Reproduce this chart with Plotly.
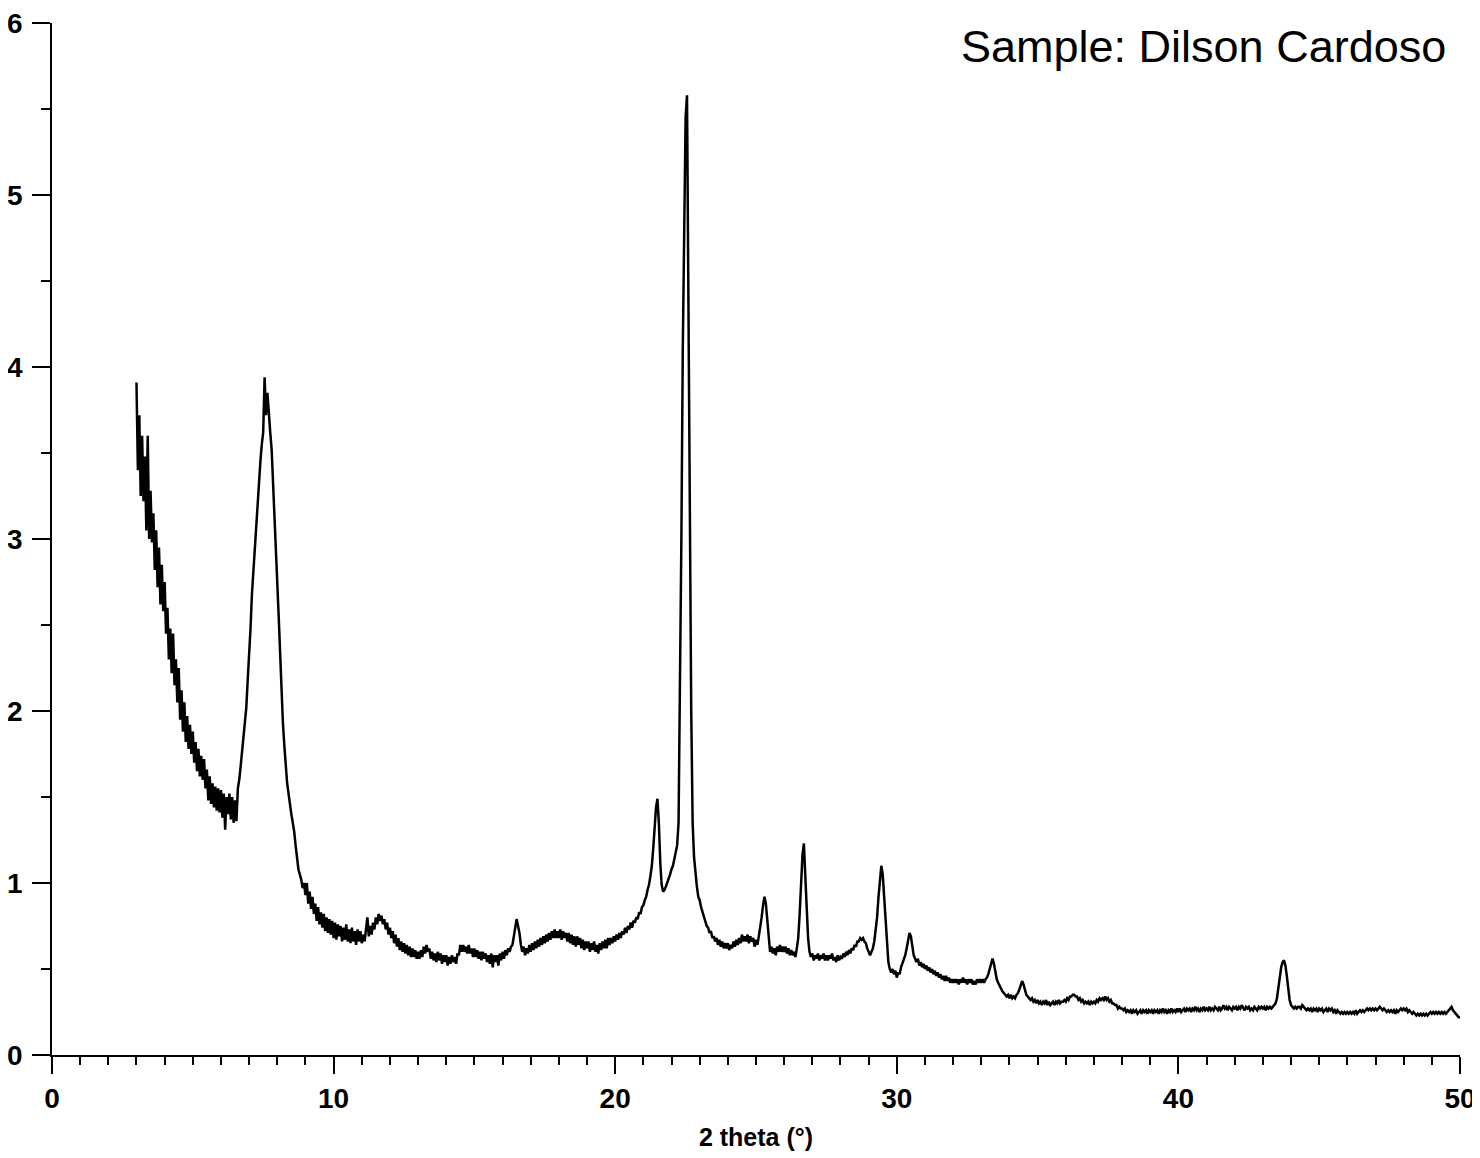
#### Diffractogramme DRX - Sample: Dilson Cardoso

from plotly.graph_objects import Scatter, Figure

# debut et pas du balayage en 2 theta (degres)
two_theta_start = 3.0
two_theta_step = 0.05

# intensite, une ligne par degre (3.00 ... 3.95, 4.00 ... etc.)
intensity = [
    3.91, 3.40, 3.72, 3.25, 3.60, 3.22, 3.48, 3.05, 3.60, 3.00, 3.28, 2.98, 3.15, 2.82, 3.05, 2.72, 2.95, 2.62, 2.85, 2.58,
    2.75, 2.45, 2.60, 2.30, 2.48, 2.22, 2.45, 2.15, 2.30, 2.05, 2.25, 1.95, 2.12, 1.88, 2.05, 1.82, 1.97, 1.78, 1.92, 1.75,
    1.88, 1.70, 1.82, 1.65, 1.78, 1.62, 1.74, 1.60, 1.72, 1.55, 1.66, 1.48, 1.62, 1.46, 1.58, 1.44, 1.56, 1.42, 1.55, 1.41,
    1.54, 1.38, 1.52, 1.31, 1.50, 1.40, 1.52, 1.37, 1.50, 1.35, 1.48, 1.36, 1.55, 1.60, 1.68, 1.76, 1.85, 1.92, 2.02, 2.18,
    2.32, 2.48, 2.68, 2.82, 2.95, 3.08, 3.20, 3.32, 3.45, 3.55, 3.62, 3.94, 3.72, 3.85, 3.70, 3.62, 3.52, 3.34, 3.15, 2.98,
    2.78, 2.55, 2.34, 2.12, 1.93, 1.80, 1.68, 1.58, 1.52, 1.45, 1.40, 1.35, 1.30, 1.22, 1.15, 1.08, 1.05, 1.02, 0.97, 1.00,
    0.93, 1.00, 0.88, 0.95, 0.85, 0.92, 0.82, 0.88, 0.78, 0.86, 0.76, 0.83, 0.74, 0.82, 0.72, 0.80, 0.71, 0.79, 0.70, 0.78,
    0.68, 0.77, 0.67, 0.76, 0.69, 0.75, 0.66, 0.74, 0.67, 0.76, 0.66, 0.73, 0.65, 0.74, 0.66, 0.72, 0.64, 0.73, 0.66, 0.72,
    0.65, 0.70, 0.66, 0.74, 0.80, 0.69, 0.75, 0.70, 0.77, 0.73, 0.80, 0.76, 0.82, 0.78, 0.81, 0.76, 0.79, 0.73, 0.77, 0.70,
    0.74, 0.68, 0.72, 0.65, 0.70, 0.63, 0.68, 0.61, 0.66, 0.60, 0.65, 0.59, 0.64, 0.58, 0.63, 0.57, 0.62, 0.57, 0.61, 0.56,
    0.60, 0.56, 0.61, 0.57, 0.63, 0.59, 0.64, 0.60, 0.62, 0.56, 0.60, 0.55, 0.59, 0.54, 0.60, 0.55, 0.59, 0.53, 0.58, 0.54,
    0.58, 0.52, 0.57, 0.53, 0.58, 0.54, 0.57, 0.53, 0.59, 0.58, 0.64, 0.60, 0.64, 0.60, 0.63, 0.59, 0.64, 0.59, 0.62, 0.57,
    0.62, 0.57, 0.61, 0.56, 0.60, 0.55, 0.60, 0.56, 0.59, 0.54, 0.58, 0.53, 0.59, 0.51, 0.58, 0.54, 0.58, 0.52, 0.59, 0.55,
    0.60, 0.56, 0.61, 0.58, 0.62, 0.60, 0.63, 0.64, 0.70, 0.74, 0.79, 0.75, 0.71, 0.64, 0.60, 0.63, 0.58, 0.62, 0.59, 0.64,
    0.60, 0.65, 0.61, 0.66, 0.62, 0.67, 0.63, 0.68, 0.64, 0.69, 0.65, 0.70, 0.66, 0.71, 0.67, 0.72, 0.68, 0.73, 0.68, 0.72,
    0.68, 0.73, 0.67, 0.72, 0.68, 0.71, 0.66, 0.71, 0.65, 0.70, 0.64, 0.69, 0.63, 0.69, 0.64, 0.68, 0.62, 0.67, 0.61, 0.66,
    0.62, 0.66, 0.60, 0.65, 0.61, 0.66, 0.60, 0.64, 0.59, 0.65, 0.61, 0.66, 0.62, 0.67, 0.62, 0.68, 0.64, 0.68, 0.65, 0.69,
    0.66, 0.70, 0.67, 0.71, 0.68, 0.72, 0.70, 0.74, 0.71, 0.75, 0.73, 0.77, 0.74, 0.78, 0.77, 0.80, 0.79, 0.83, 0.82, 0.86,
    0.87, 0.90, 0.92, 0.96, 0.99, 1.04, 1.10, 1.20, 1.32, 1.44, 1.49, 1.35, 1.12, 0.99, 0.95, 0.96, 0.98, 1.00, 1.02, 1.05,
    1.08, 1.10, 1.14, 1.18, 1.22, 1.35, 2.10, 3.00, 4.10, 4.90, 5.45, 5.58, 4.60, 3.20, 2.00, 1.35, 1.15, 1.05, 0.98, 0.92,
    0.90, 0.86, 0.83, 0.80, 0.78, 0.75, 0.74, 0.71, 0.72, 0.68, 0.69, 0.66, 0.68, 0.64, 0.67, 0.63, 0.66, 0.62, 0.65, 0.62,
    0.65, 0.61, 0.64, 0.62, 0.66, 0.63, 0.67, 0.64, 0.68, 0.65, 0.70, 0.66, 0.69, 0.66, 0.70, 0.65, 0.69, 0.66, 0.68, 0.63,
    0.67, 0.64, 0.69, 0.74, 0.80, 0.87, 0.92, 0.88, 0.78, 0.66, 0.60, 0.63, 0.59, 0.62, 0.58, 0.63, 0.60, 0.64, 0.60, 0.63,
    0.60, 0.63, 0.59, 0.62, 0.58, 0.61, 0.58, 0.60, 0.57, 0.62, 0.68, 0.82, 1.00, 1.16, 1.23, 1.08, 0.86, 0.68, 0.60, 0.57,
    0.59, 0.55, 0.58, 0.56, 0.59, 0.55, 0.58, 0.56, 0.59, 0.55, 0.58, 0.55, 0.58, 0.56, 0.59, 0.55, 0.57, 0.54, 0.58, 0.55,
    0.57, 0.56, 0.59, 0.57, 0.60, 0.58, 0.61, 0.59, 0.62, 0.61, 0.64, 0.63, 0.66, 0.66, 0.68, 0.67, 0.68, 0.66, 0.65, 0.62,
    0.60, 0.58, 0.60, 0.62, 0.66, 0.72, 0.80, 0.92, 1.03, 1.10, 1.05, 0.92, 0.76, 0.62, 0.54, 0.50, 0.48, 0.50, 0.47, 0.49,
    0.45, 0.48, 0.47, 0.51, 0.53, 0.56, 0.58, 0.62, 0.67, 0.71, 0.69, 0.63, 0.58, 0.56, 0.54, 0.56, 0.52, 0.54, 0.51, 0.53,
    0.50, 0.52, 0.49, 0.51, 0.48, 0.50, 0.47, 0.49, 0.46, 0.48, 0.45, 0.47, 0.44, 0.46, 0.43, 0.46, 0.43, 0.45, 0.42, 0.44,
    0.42, 0.44, 0.42, 0.44, 0.41, 0.44, 0.42, 0.45, 0.42, 0.44, 0.41, 0.44, 0.42, 0.44, 0.41, 0.43, 0.41, 0.44, 0.42, 0.44,
    0.42, 0.44, 0.42, 0.44, 0.45, 0.47, 0.50, 0.54, 0.56, 0.53, 0.48, 0.44, 0.42, 0.40, 0.38, 0.37, 0.36, 0.35, 0.34, 0.35,
    0.33, 0.35, 0.33, 0.34, 0.33, 0.35, 0.36, 0.38, 0.41, 0.43, 0.41, 0.37, 0.35, 0.34, 0.33, 0.32, 0.33, 0.31, 0.32, 0.30,
    0.32, 0.30, 0.31, 0.29, 0.31, 0.30, 0.32, 0.29, 0.31, 0.29, 0.30, 0.31, 0.29, 0.31, 0.30, 0.32, 0.30, 0.31, 0.31, 0.32,
    0.31, 0.33, 0.32, 0.34, 0.34, 0.35, 0.35, 0.34, 0.34, 0.32, 0.33, 0.31, 0.32, 0.30, 0.31, 0.30, 0.31, 0.29, 0.31, 0.30,
    0.31, 0.30, 0.32, 0.31, 0.33, 0.32, 0.33, 0.32, 0.34, 0.32, 0.33, 0.31, 0.32, 0.30, 0.30, 0.29, 0.29, 0.27, 0.28, 0.27,
    0.27, 0.26, 0.27, 0.25, 0.26, 0.25, 0.26, 0.24, 0.26, 0.25, 0.26, 0.24, 0.25, 0.26, 0.24, 0.26, 0.25, 0.26, 0.24, 0.26,
    0.25, 0.26, 0.24, 0.26, 0.25, 0.26, 0.24, 0.26, 0.25, 0.27, 0.25, 0.26, 0.24, 0.26, 0.25, 0.27, 0.25, 0.26, 0.25, 0.27,
    0.25, 0.27, 0.25, 0.26, 0.27, 0.25, 0.27, 0.26, 0.27, 0.25, 0.27, 0.26, 0.28, 0.26, 0.27, 0.25, 0.27, 0.26, 0.28, 0.26,
    0.27, 0.26, 0.28, 0.26, 0.27, 0.26, 0.28, 0.27, 0.26, 0.28, 0.26, 0.27, 0.29, 0.27, 0.28, 0.26, 0.28, 0.27, 0.26, 0.28,
    0.27, 0.28, 0.26, 0.28, 0.27, 0.29, 0.27, 0.26, 0.28, 0.27, 0.28, 0.26, 0.27, 0.26, 0.28, 0.27, 0.26, 0.28, 0.27, 0.28,
    0.27, 0.28, 0.26, 0.28, 0.27, 0.28, 0.27, 0.28, 0.29, 0.30, 0.33, 0.38, 0.45, 0.51, 0.54, 0.55, 0.52, 0.46, 0.38, 0.32,
    0.29, 0.28, 0.27, 0.28, 0.27, 0.28, 0.28, 0.27, 0.29, 0.28, 0.27, 0.26, 0.27, 0.26, 0.27, 0.25, 0.27, 0.26, 0.27, 0.25,
    0.27, 0.26, 0.27, 0.25, 0.26, 0.27, 0.25, 0.27, 0.26, 0.27, 0.25, 0.26, 0.24, 0.26, 0.25, 0.24, 0.25, 0.24, 0.25, 0.24,
    0.25, 0.24, 0.25, 0.24, 0.25, 0.24, 0.26, 0.24, 0.25, 0.26, 0.25, 0.26, 0.25, 0.26, 0.27, 0.26, 0.27, 0.26, 0.27, 0.26,
    0.27, 0.26, 0.27, 0.28, 0.27, 0.26, 0.27, 0.26, 0.25, 0.26, 0.25, 0.26, 0.25, 0.26, 0.24, 0.26, 0.25, 0.26, 0.27, 0.26,
    0.27, 0.26, 0.27, 0.25, 0.26, 0.25, 0.24, 0.25, 0.24, 0.23, 0.24, 0.23, 0.24, 0.23, 0.24, 0.23, 0.24, 0.23, 0.24, 0.25,
    0.24, 0.25, 0.24, 0.25, 0.24, 0.25, 0.24, 0.25, 0.24, 0.25, 0.24, 0.25, 0.26, 0.27, 0.28, 0.26, 0.25, 0.24, 0.23, 0.22,
    0.22,
]

x_ticks = [0, 10, 20, 30, 40, 50]
y_ticks = [0, 1, 2, 3, 4, 5, 6]

sample_label = "Sample: Dilson Cardoso"
x_label = "2 theta (°)"

FONT = "Liberation Sans, Arial, Helvetica, sans-serif"


def axe(rng, ticks, minor_step, ticklen, minorlen):
    '''reglages communs des axes'''
    return dict(
        range=rng, tickvals=ticks, ticks="outside", ticklen=ticklen,
        tickwidth=1.8, tickcolor="black",
        showline=True, linecolor="black", linewidth=1.8,
        showgrid=False, zeroline=False, automargin=False,
        ticklabeloverflow="allow",
        tickfont=dict(family=FONT, size=28, color="black", weight="bold"),
        minor=dict(dtick=minor_step, ticks="outside", ticklen=minorlen,
                   tickwidth=1.5, tickcolor="black", showgrid=False),
    )


def xrd_plot(two_theta, counts):
    '''trace le diffractogramme'''
    fig = Figure()
    fig.add_trace(Scatter(x=two_theta, y=counts, mode="lines",
                          line=dict(color="black", width=2.5),
                          showlegend=False))

    xaxis = axe([0, 50], x_ticks, 1, 17, 8)
    xaxis["title"] = dict(text=x_label, standoff=16,
                          font=dict(family=FONT, size=25, color="black",
                                    weight="bold"))
    yaxis = axe([0, 6], y_ticks, 0.5, 18, 9)
    yaxis["ticklabelstandoff"] = 4

    # la page html ajoute 8 px de marge autour de la figure
    fig.update_layout(
        width=1472, height=1150,
        margin=dict(l=44, r=20, t=15, b=103),
        plot_bgcolor="white", paper_bgcolor="white",
        font=dict(family=FONT, color="black"),
        xaxis=xaxis, yaxis=yaxis,
    )
    fig.add_annotation(text=sample_label, xref="paper", yref="paper",
                       x=0.9915, y=0.977, xanchor="right", yanchor="middle",
                       showarrow=False,
                       font=dict(family=FONT, size=45, color="black"))
    fig.write_html("out.html")


def main():
    two_theta = [round(two_theta_start + i * two_theta_step, 2)
                 for i in range(len(intensity))]
    xrd_plot(two_theta, intensity)


if __name__ == "__main__":
    main()
